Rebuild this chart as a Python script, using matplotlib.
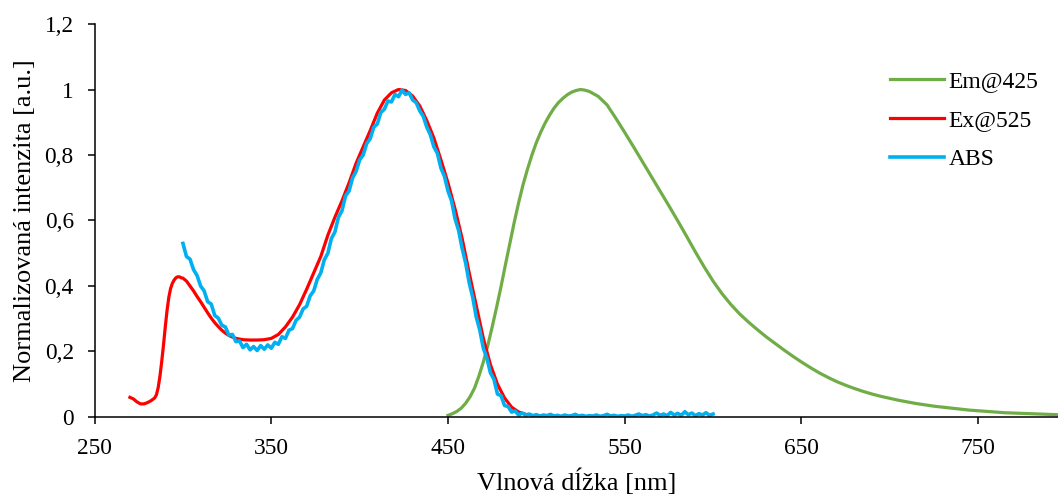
import matplotlib
matplotlib.use("Agg")
import matplotlib.pyplot as plt
from matplotlib.ticker import FuncFormatter

plt.rcParams["font.family"] = ["Liberation Serif", "DejaVu Serif"]

# Em@425 (emission spectrum)
em_nm = [450, 452.5, 455, 457.5, 460, 462.5, 465, 467.5, 470, 472.5, 475, 477.5,
         480, 482.5, 485, 487.5, 490, 492.5, 495, 497.5, 500, 502.5, 505, 507.5,
         510, 512.5, 515, 517.5, 520, 522.5, 525, 527.5, 530, 535, 540, 545, 550,
         555, 560, 565, 570, 575, 580, 585, 590, 595, 600, 605, 610, 615, 620,
         625, 630, 635, 640, 645, 650, 655, 660, 665, 670, 675, 680, 685, 690,
         695, 700, 705, 710, 715, 720, 725, 730, 735, 740, 745, 750, 755, 760,
         765, 770, 775, 780, 785, 790, 795, 800]
em_val = [0.005, 0.010, 0.017, 0.027, 0.042, 0.062, 0.088, 0.125, 0.168, 0.218,
          0.275, 0.335, 0.398, 0.465, 0.530, 0.595, 0.655, 0.710, 0.757, 0.800,
          0.838, 0.870, 0.898, 0.922, 0.943, 0.960, 0.973, 0.984, 0.992, 0.997,
          1.0, 0.998, 0.994, 0.979, 0.953, 0.912, 0.869, 0.825, 0.780, 0.735,
          0.690, 0.645, 0.599, 0.552, 0.504, 0.458, 0.415, 0.377, 0.344, 0.315,
          0.290, 0.267, 0.245, 0.225, 0.205, 0.186, 0.168, 0.151, 0.135, 0.121,
          0.108, 0.097, 0.087, 0.078, 0.070, 0.063, 0.057, 0.051, 0.046, 0.041,
          0.037, 0.033, 0.030, 0.027, 0.024, 0.021, 0.019, 0.017, 0.015, 0.013,
          0.012, 0.011, 0.010, 0.009, 0.008, 0.007, 0.006]

# Ex@525 (excitation spectrum)
ex_nm = [270, 272, 274, 276, 278, 280, 282, 284, 285, 286, 287, 288, 289, 290,
         291, 292, 293, 294, 295, 296, 297, 298, 299, 300, 302, 304, 306, 308,
         310, 312, 314, 316, 318, 320, 322, 324, 326, 328, 330, 334, 338, 342,
         346, 350, 354, 358, 362, 366, 370, 374, 378, 382, 386, 390, 394, 398,
         402, 406, 410, 414, 418, 422, 426, 430, 434, 438, 442, 446, 450, 454,
         458, 462, 466, 470, 474, 478, 482, 486, 490, 494]
ex_val = [0.060, 0.055, 0.046, 0.040, 0.040, 0.044, 0.050, 0.058, 0.068, 0.090,
          0.125, 0.170, 0.220, 0.275, 0.325, 0.365, 0.392, 0.408, 0.418, 0.425,
          0.428, 0.428, 0.425, 0.424, 0.415, 0.400, 0.385, 0.368, 0.352, 0.335,
          0.318, 0.302, 0.288, 0.276, 0.265, 0.256, 0.249, 0.244, 0.240, 0.236,
          0.235, 0.235, 0.236, 0.240, 0.252, 0.275, 0.305, 0.343, 0.39, 0.44,
          0.49, 0.555, 0.61, 0.66, 0.715, 0.775, 0.825, 0.875, 0.928, 0.968,
          0.99, 1.0, 0.997, 0.98, 0.95, 0.905, 0.852, 0.785, 0.715, 0.635,
          0.545, 0.44, 0.34, 0.24, 0.16, 0.10, 0.058, 0.030, 0.015, 0.008]

# ABS (absorption spectrum, 2 nm step from 300 to 600)
abs_nm = list(range(300, 602, 2))
abs_val = [0.53, 0.49, 0.482, 0.45, 0.432, 0.40, 0.385, 0.352, 0.345, 0.31,
           0.302, 0.28, 0.275, 0.25, 0.252, 0.23, 0.232, 0.212, 0.222, 0.205,
           0.215, 0.203, 0.218, 0.207, 0.22, 0.21, 0.228, 0.222, 0.245, 0.24,
           0.265, 0.27, 0.295, 0.305, 0.33, 0.338, 0.37, 0.385, 0.42, 0.44,
           0.48, 0.50, 0.545, 0.565, 0.61, 0.63, 0.675, 0.69, 0.73, 0.75,
           0.785, 0.80, 0.835, 0.85, 0.885, 0.895, 0.93, 0.94, 0.965, 0.962,
           0.985, 0.978, 0.998, 0.985, 0.99, 0.968, 0.96, 0.935, 0.918, 0.885,
           0.862, 0.825, 0.805, 0.76, 0.735, 0.69, 0.66, 0.605, 0.57, 0.515,
           0.47, 0.41, 0.365, 0.305, 0.265, 0.21, 0.18, 0.135, 0.115, 0.07,
           0.065, 0.035, 0.032, 0.015, 0.018, 0.006,
           0.012, 0.006, 0.009, 0.004, 0.007, 0.003, 0.006, 0.004, 0.008, 0.003,
           0.005, 0.002, 0.006, 0.003, 0.004, 0.008, 0.003, 0.005, 0.002, 0.004,
           0.003, 0.006, 0.002, 0.004, 0.008, 0.003, 0.005, 0.002, 0.004, 0.003,
           0.006, 0.002, 0.005, 0.009, 0.004, 0.007, 0.003, 0.006, 0.012, 0.005,
           0.009, 0.004, 0.014, 0.006, 0.011, 0.005, 0.016, 0.007, 0.012, 0.004,
           0.010, 0.006, 0.013, 0.005, 0.009]

x_ticks = [250, 350, 450, 550, 650, 750]
y_ticks = [0, 0.2, 0.4, 0.6, 0.8, 1.0, 1.2]

fig = plt.figure(figsize=(10.58, 4.95), dpi=100)
ax = fig.add_axes([0.0894, 0.1576, 0.9106, 0.7939])

ax.plot(em_nm, em_val, color="#70AD47", lw=2.3, label="Em@425")
ax.plot(ex_nm, ex_val, color="#FF0000", lw=2.3, label="Ex@525")
ax.plot(abs_nm, abs_val, color="#00B0F0", lw=2.6, label="ABS")

ax.set_xlim(250, 795.2)
ax.set_ylim(0, 1.2)
ax.set_xticks(x_ticks)
ax.set_yticks(y_ticks)
ax.yaxis.set_major_formatter(FuncFormatter(lambda v, _: f"{v:g}".replace(".", ",")))

for s in ("top", "right"):
    ax.spines[s].set_visible(False)
for s in ("left", "bottom"):
    ax.spines[s].set_linewidth(1.1)
ax.tick_params(axis="both", direction="out", length=5, width=1.1, labelsize=16.8)
ax.tick_params(axis="y", pad=10)
ax.tick_params(axis="x", pad=10)

ax.set_xlabel("Vlnová dĺžka [nm]", fontsize=19, labelpad=7)
ax.set_ylabel("Normalizovaná intenzita [a.u.]", fontsize=19, labelpad=6)

ax.legend(loc="upper left", bbox_to_anchor=(0.841, 0.858),
          bbox_transform=fig.transFigure, frameon=False, fontsize=17,
          handlelength=2.29, handletextpad=0.21, labelspacing=0.74,
          borderpad=0, borderaxespad=0)

fig.savefig("out.png", dpi=100)
